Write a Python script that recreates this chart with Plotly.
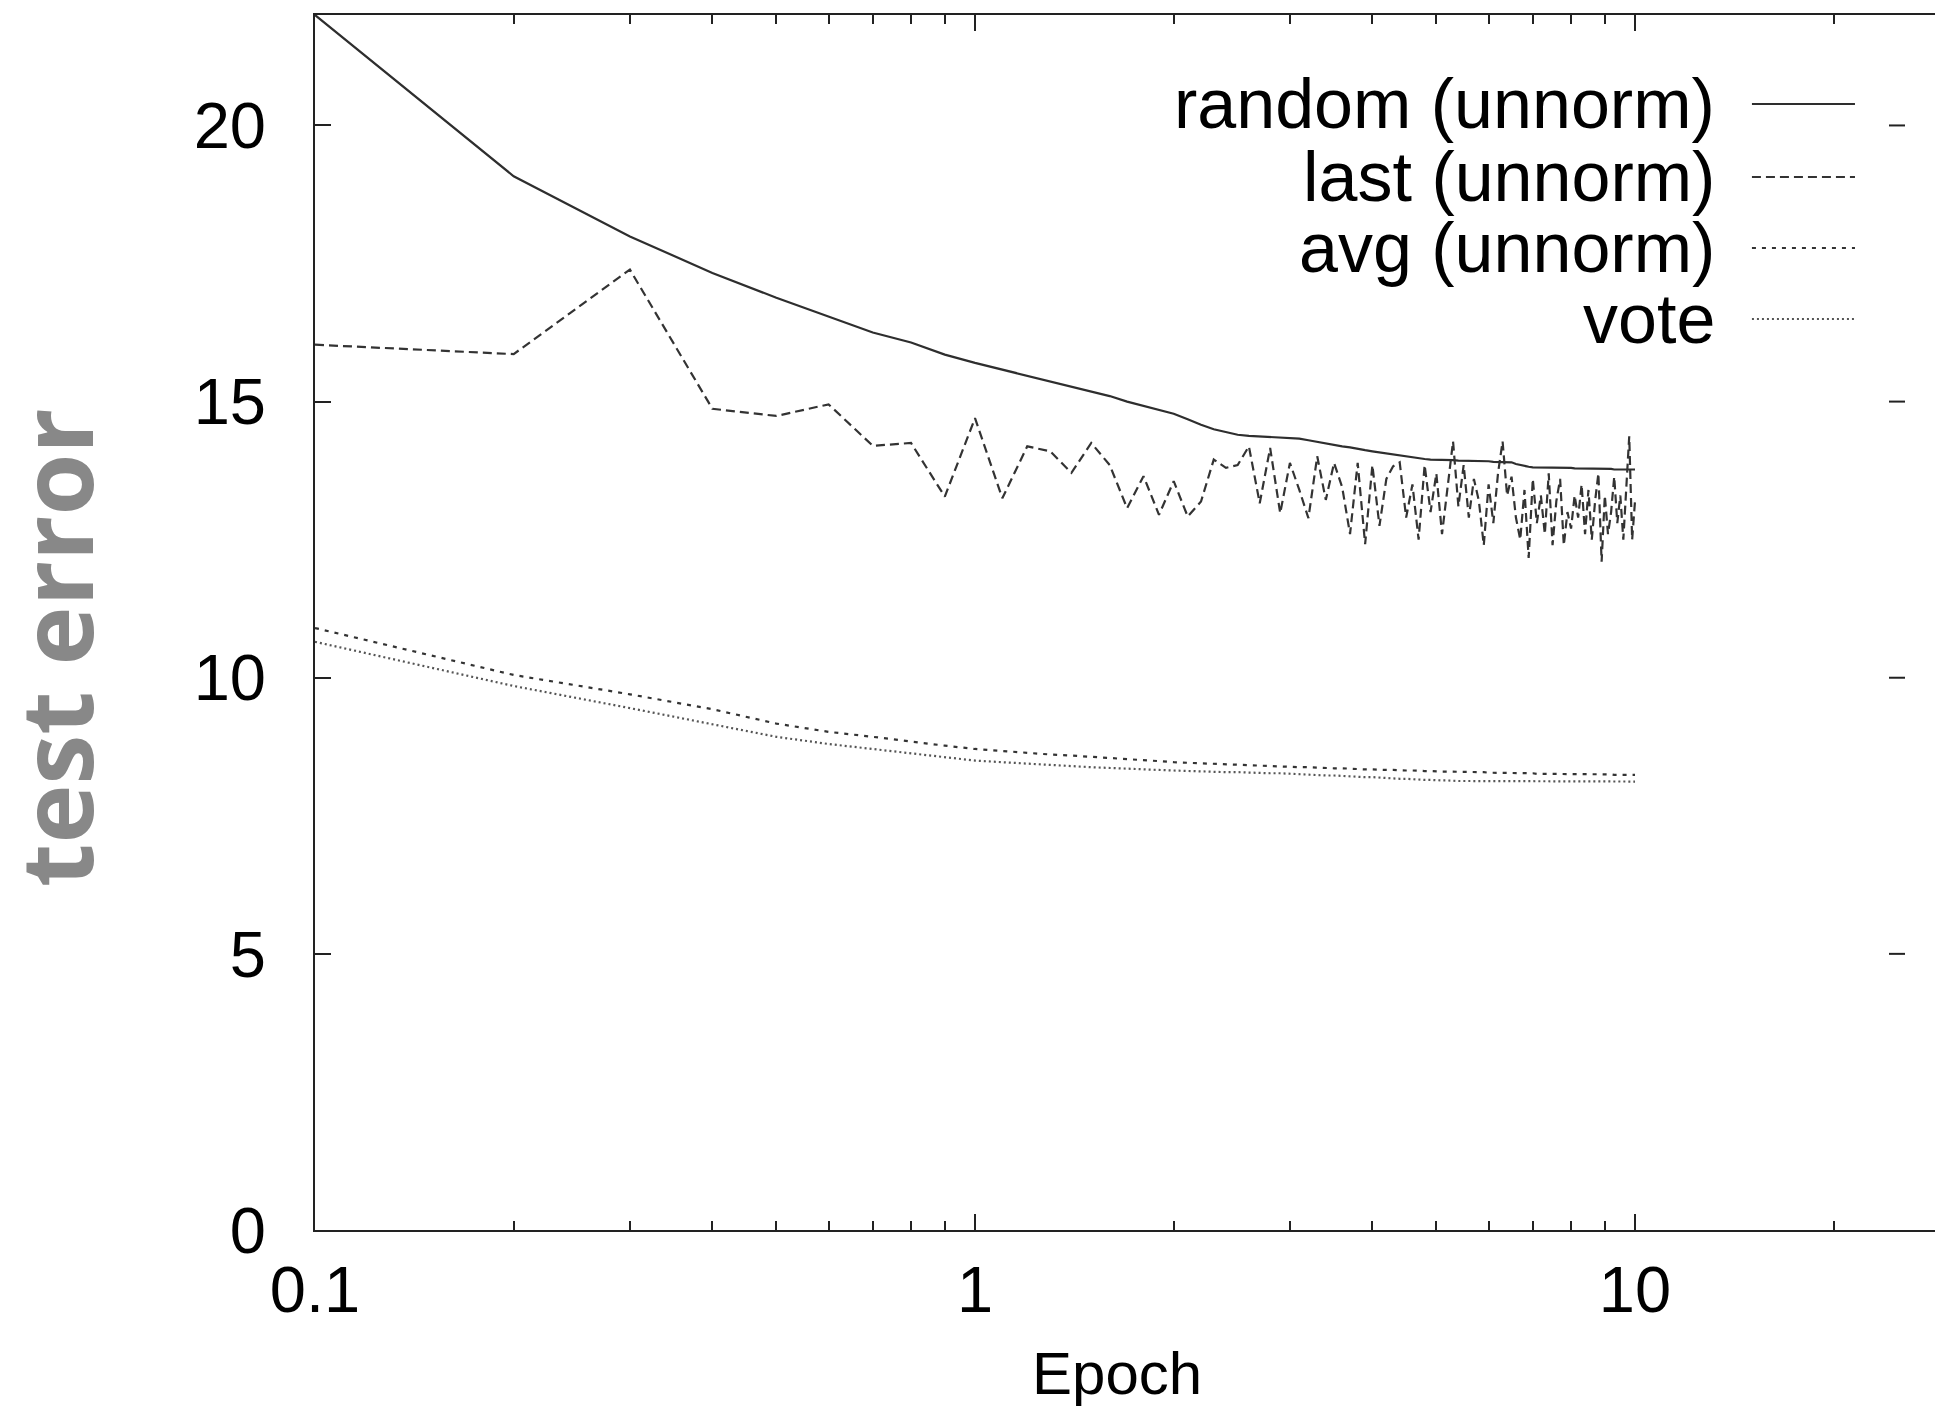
import plotly.graph_objects as go

epochs = [0.1, 0.2, 0.3, 0.4, 0.5, 0.6, 0.7, 0.8, 0.9, 1.0,
          1.1, 1.2, 1.3, 1.4, 1.5, 1.6, 1.7, 1.8, 1.9, 2.0,
          2.1, 2.2, 2.3, 2.4, 2.5, 2.6, 2.7, 2.8, 2.9, 3.0,
          3.1, 3.2, 3.3, 3.4, 3.5, 3.6, 3.7, 3.8, 3.9, 4.0,
          4.1, 4.2, 4.3, 4.4, 4.5, 4.6, 4.7, 4.8, 4.9, 5.0,
          5.1, 5.2, 5.3, 5.4, 5.5, 5.6, 5.7, 5.8, 5.9, 6.0,
          6.1, 6.2, 6.3, 6.4, 6.5, 6.6, 6.7, 6.8, 6.9, 7.0,
          7.1, 7.2, 7.3, 7.4, 7.5, 7.6, 7.7, 7.8, 7.9, 8.0,
          8.1, 8.2, 8.3, 8.4, 8.5, 8.6, 8.7, 8.8, 8.9, 9.0,
          9.1, 9.2, 9.3, 9.4, 9.5, 9.6, 9.7, 9.8, 9.9, 10.0]

random_unnorm = [22.0, 19.08, 17.99, 17.33, 16.88, 16.54, 16.25, 16.07, 15.85, 15.7,
                 15.58, 15.47, 15.37, 15.27, 15.18, 15.1, 15.0, 14.92, 14.85, 14.78,
                 14.68, 14.58, 14.5, 14.45, 14.4, 14.38, 14.37, 14.36, 14.36, 14.35,
                 14.33, 14.3, 14.27, 14.24, 14.21, 14.19, 14.17, 14.14, 14.12, 14.1,
                 14.08, 14.06, 14.05, 14.03, 14.01, 14.0, 13.98, 13.96, 13.95, 13.95,
                 13.94, 13.94, 13.94, 13.93, 13.93, 13.93, 13.92, 13.92, 13.92, 13.92,
                 13.91, 13.91, 13.91, 13.91, 13.9, 13.87, 13.85, 13.83, 13.82, 13.81,
                 13.81, 13.81, 13.8, 13.8, 13.8, 13.8, 13.8, 13.8, 13.8, 13.8,
                 13.79, 13.79, 13.79, 13.79, 13.79, 13.78, 13.78, 13.78, 13.78, 13.78,
                 13.78, 13.78, 13.77, 13.77, 13.77, 13.77, 13.77, 13.77, 13.77, 13.77]

last_unnorm = [16.03, 15.86, 17.39, 14.87, 14.74, 14.95, 14.2, 14.25, 13.28, 14.7,
               13.25, 14.19, 14.1, 13.71, 14.25, 13.85, 13.07, 13.65, 12.95, 13.56,
               12.92, 13.19, 13.95, 13.8, 13.85, 14.19, 13.16, 14.16, 12.98, 13.89,
               13.4, 12.89, 14.01, 13.22, 13.89, 13.45, 12.6, 13.89, 12.42, 13.85,
               12.75, 13.6, 13.83, 13.9, 12.9, 13.5, 12.5, 13.85, 13.0, 13.7,
               12.6, 13.4, 14.28, 13.1, 13.85, 12.9, 13.6, 13.2, 12.4, 13.5,
               12.8, 13.7, 14.28, 13.3, 13.64, 12.9, 12.5, 13.4, 12.17, 13.6,
               12.8, 13.3, 12.6, 13.7, 12.4, 13.2, 13.6, 12.4, 13.0, 12.7,
               13.3, 12.9, 13.5, 12.6, 13.4, 12.5, 13.2, 13.7, 12.1, 13.3,
               12.6, 13.0, 13.64, 12.8, 13.3, 12.5, 13.4, 14.37, 12.5, 13.2]

avg_unnorm = [10.9, 10.05, 9.7, 9.43, 9.17, 9.02, 8.93, 8.84, 8.77, 8.71,
              8.67, 8.64, 8.61, 8.59, 8.57, 8.55, 8.53, 8.51, 8.49, 8.47,
              8.46, 8.45, 8.44, 8.43, 8.42, 8.41, 8.4, 8.4, 8.39, 8.39,
              8.38, 8.38, 8.37, 8.37, 8.36, 8.36, 8.35, 8.35, 8.34, 8.34,
              8.33, 8.33, 8.33, 8.32, 8.32, 8.32, 8.31, 8.31, 8.31, 8.3,
              8.3, 8.3, 8.3, 8.3, 8.29, 8.29, 8.29, 8.29, 8.29, 8.28,
              8.28, 8.28, 8.28, 8.28, 8.27, 8.27, 8.27, 8.27, 8.27, 8.27,
              8.26, 8.26, 8.26, 8.26, 8.26, 8.26, 8.26, 8.26, 8.26, 8.26,
              8.25, 8.25, 8.25, 8.25, 8.25, 8.25, 8.25, 8.25, 8.25, 8.25,
              8.25, 8.25, 8.24, 8.24, 8.24, 8.24, 8.24, 8.24, 8.24, 8.24]

vote = [10.65, 9.85, 9.45, 9.15, 8.93, 8.8, 8.71, 8.63, 8.56, 8.5,
        8.47, 8.44, 8.42, 8.4, 8.38, 8.37, 8.35, 8.34, 8.33, 8.32,
        8.31, 8.3, 8.3, 8.29, 8.29, 8.28, 8.28, 8.27, 8.27, 8.26,
        8.25, 8.25, 8.24, 8.23, 8.23, 8.22, 8.21, 8.21, 8.2, 8.2,
        8.19, 8.18, 8.18, 8.17, 8.17, 8.16, 8.16, 8.15, 8.15, 8.14,
        8.14, 8.14, 8.13, 8.13, 8.13, 8.13, 8.13, 8.13, 8.12, 8.12,
        8.12, 8.12, 8.12, 8.12, 8.12, 8.12, 8.12, 8.12, 8.12, 8.12,
        8.12, 8.12, 8.12, 8.12, 8.12, 8.12, 8.12, 8.12, 8.12, 8.12,
        8.12, 8.12, 8.12, 8.12, 8.12, 8.12, 8.12, 8.12, 8.12, 8.12,
        8.12, 8.12, 8.12, 8.12, 8.12, 8.12, 8.12, 8.12, 8.12, 8.12]

series_names = ["random (unnorm)", "last (unnorm)", "avg (unnorm)", "vote"]
series_values = [random_unnorm, last_unnorm, avg_unnorm, vote]
series_dash = ["solid", "9px,5px", "4px,6px", "2px,3px"]
series_color = ["#2e2e2e", "#333333", "#333333", "#555555"]

x_ticks = [0.1, 1, 10]
x_ticktext = ["0.1", "1", "10"]
x_minor = [0.2, 0.3, 0.4, 0.5, 0.6, 0.7, 0.8, 0.9, 2, 3, 4, 5, 6, 7, 8, 9, 20]
y_ticks = [0, 5, 10, 15, 20]
right_ticks = [5, 10, 15, 20]

FONT = "Liberation Sans, Arial, Helvetica, sans-serif"

fig = go.Figure()
for name, vals, dash, col in zip(series_names, series_values, series_dash, series_color):
    fig.add_trace(go.Scatter(x=epochs, y=vals, mode="lines", name=name,
                             line=dict(color=col, width=2.2, dash=dash),
                             showlegend=False))

# gnuplot-style key: text right-aligned, sample to the right
key_y = [0.9267, 0.8667, 0.8082, 0.7498]
for name, dash, col, ky in zip(series_names, series_dash, series_color, key_y):
    fig.add_annotation(x=0.8654, y=ky, xref="paper", yref="paper", text=name,
                       showarrow=False, xanchor="right", yanchor="middle",
                       font=dict(family=FONT, size=70, color="#000000"))
    fig.add_shape(type="line", xref="paper", yref="paper", x0=0.887, x1=0.9506,
                  y0=ky, y1=ky, line=dict(color=col, width=2, dash=dash))

# mirrored tick marks on the (cropped) right border
for v in right_ticks:
    fig.add_shape(type="line", xref="paper", yref="y", x0=0.9716, x1=0.9815,
                  y0=v, y1=v, line=dict(color="#222", width=2))

fig.add_annotation(x=0.495, y=-0.1177, xref="paper", yref="paper", text="Epoch",
                   showarrow=False, xanchor="center", yanchor="middle",
                   font=dict(family=FONT, size=60, color="#000000"))
fig.add_annotation(x=-0.1611, y=0.479, xref="paper", yref="paper", text="<b>test error</b>",
                   showarrow=False, xanchor="center", yanchor="middle", textangle=-90,
                   font=dict(family="Open Sans, sans-serif", size=100, color="#888888"))

fig.update_layout(
    width=1935, height=1411,
    margin=dict(l=315, r=0, t=15, b=181),
    paper_bgcolor="white", plot_bgcolor="white",
    xaxis=dict(type="log", range=[-1, 1.4545], tickvals=x_ticks, ticktext=x_ticktext,
               ticks="inside", ticklen=16, tickwidth=2, tickcolor="#222",
               showline=True, linecolor="#222", linewidth=2, mirror="ticks",
               showgrid=False, zeroline=False, ticklabelstandoff=2,
               minor=dict(tickvals=x_minor, ticks="inside", ticklen=9, tickwidth=2,
                          tickcolor="#222", showgrid=False),
               tickfont=dict(family=FONT, size=65, color="#000000")),
    yaxis=dict(range=[0, 22], tickvals=y_ticks, ticks="inside", ticklen=16, tickwidth=2,
               tickcolor="#222", showline=True, linecolor="#222", linewidth=2,
               mirror=False, showgrid=False, zeroline=False, ticklabelstandoff=34,
               tickfont=dict(family=FONT, size=65, color="#000000")),
)

fig.write_html("out.html")
